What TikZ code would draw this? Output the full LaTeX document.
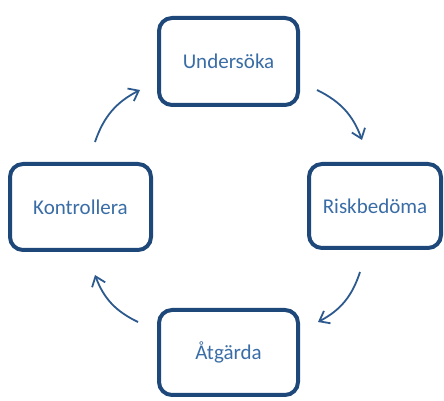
\documentclass[tikz,border=0pt]{standalone}
\usepackage{fontspec}
\setmainfont{Carlito}
\usetikzlibrary{arrows.meta}
\definecolor{boxblue}{HTML}{1F487A}
\definecolor{txtblue}{HTML}{3A6DA6}
\definecolor{arrblue}{HTML}{2D5A8E}
\begin{document}
\begin{tikzpicture}[x=1pt,y=1pt,
  stepbox/.style={draw=boxblue, line width=4pt, rounded corners=13pt, fill=white,
    minimum width=139pt, minimum height=87pt, inner sep=0pt,
    text=txtblue, font=\fontsize{21}{24}\selectfont},
  cyc/.style={draw=arrblue, line width=1.8pt, -{Straight Barb[length=9pt,width=14pt,line width=1.8pt]}, bend left=22}]
\useasboundingbox (0,0) rectangle (444,401);
\node[stepbox] (U) at (228.5,339.5) {Undersöka};
\node[stepbox, minimum width=141pt, minimum height=86pt] (K) at (80.5,194) {Kontrollera};
\node[stepbox, minimum width=132pt, minimum height=84pt] (R) at (375,195) {Riskbedöma};
\node[stepbox, minimum height=85pt] (A) at (228.5,48.5) {Åtgärda};
\coordinate (a1) at (95,259);
\coordinate (a2) at (140,311);
\coordinate (b1) at (317,311);
\coordinate (b2) at (362,261);
\coordinate (c1) at (360,129);
\coordinate (c2) at (318,79);
\coordinate (d1) at (138,79);
\coordinate (d2) at (95,126);
\draw[cyc] (a1) to (a2);
\draw[cyc] (b1) to (b2);
\draw[cyc] (c1) to (c2);
\draw[cyc] (d1) to (d2);
\end{tikzpicture}
\end{document}
